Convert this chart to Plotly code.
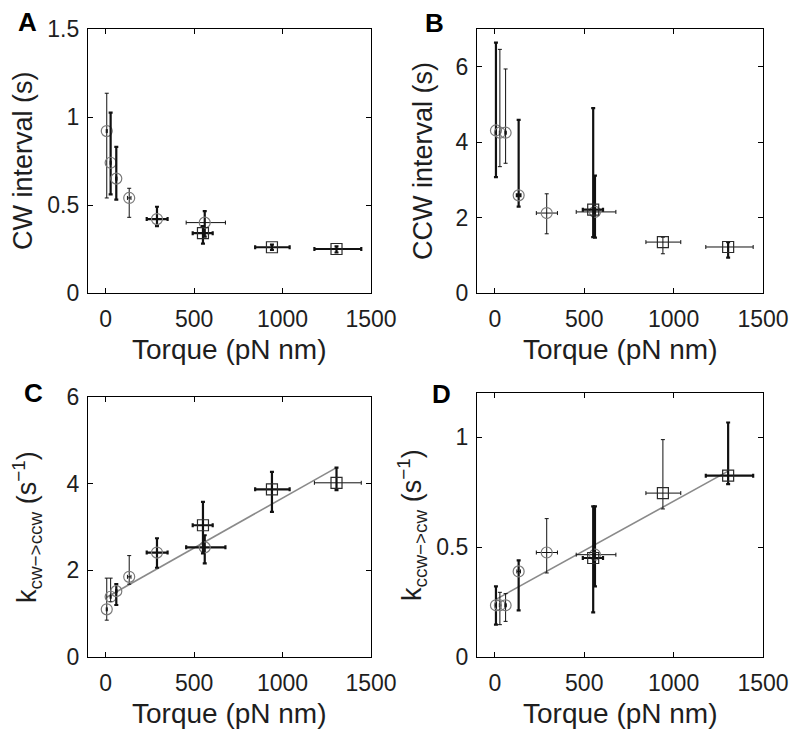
import plotly.graph_objects as go

# ---------------- data ----------------
# first six points: circles, last three: squares
BEAD_KIND = ["circle", "circle", "circle", "circle", "circle", "circle",
             "square", "square", "square"]
TORQUE = [6, 28, 60, 133, 290, 560, 550, 940, 1305]
TORQUE_ERR_LO = [3, 3, 4, 10, 58, 105, 58, 95, 125]
TORQUE_ERR_HI = [3, 3, 4, 10, 60, 117, 55, 100, 140]

CW_INTERVAL = [0.92, 0.74, 0.65, 0.54, 0.42, 0.40, 0.34, 0.26, 0.25]
CW_ERR_LO = [0.38, 0.18, 0.12, 0.11, 0.04, 0.08, 0.06, 0.015, 0.02]
CW_ERR_HI = [0.215, 0.285, 0.18, 0.055, 0.07, 0.065, 0.04, 0.015, 0.015]

CCW_INTERVAL = [4.31, 4.25, 4.25, 2.59, 2.12, 2.15, 2.21, 1.35, 1.22]
CCW_ERR_LO = [1.24, 0.90, 0.81, 0.30, 0.55, 0.68, 0.73, 0.31, 0.28]
CCW_ERR_HI = [2.33, 2.21, 1.69, 2.00, 0.51, 0.96, 2.69, 0.13, 0.13]

K_CW_CCW = [1.10, 1.39, 1.52, 1.85, 2.41, 2.53, 3.04, 3.87, 4.02]
K_CW_CCW_ERR_LO = [0.25, 0.11, 0.32, 0.17, 0.35, 0.37, 0.65, 0.52, 0.17]
K_CW_CCW_ERR_HI = [0.72, 0.43, 0.16, 0.49, 0.33, 0.28, 0.54, 0.40, 0.35]

K_CCW_CW = [0.235, 0.235, 0.235, 0.389, 0.475, 0.465, 0.45, 0.745, 0.824]
K_CCW_CW_ERR_LO = [0.088, 0.088, 0.073, 0.177, 0.093, 0.144, 0.247, 0.072, 0.038]
K_CCW_CW_ERR_HI = [0.086, 0.059, 0.053, 0.050, 0.154, 0.220, 0.235, 0.243, 0.242]

FIT_C_X = [6, 1305]
FIT_C_Y = [1.38, 4.37]
FIT_D_X = [6, 1305]
FIT_D_Y = [0.262, 0.845]

X_TICKS = [0, 500, 1000, 1500]
X_TITLE = "Torque (pN nm)"

# ---------------- styles (error-bar line widths per point) ----------------
W_THIN, W_THICK = 1.0, 2.2
YW_A = [W_THIN, W_THICK, W_THICK, W_THIN, W_THICK, W_THICK, W_THICK, W_THICK, W_THICK]
XW_A = [W_THIN, W_THIN, W_THIN, W_THIN, W_THICK, W_THIN, W_THICK, W_THICK, W_THICK]
YW_B = [W_THICK, W_THIN, W_THIN, W_THICK, W_THIN, W_THICK, W_THICK, W_THIN, W_THICK]
XW_B = [W_THIN, W_THIN, W_THIN, W_THICK, W_THIN, W_THIN, W_THICK, W_THIN, W_THIN]
YW_C = [W_THIN, W_THIN, W_THICK, W_THIN, W_THICK, W_THICK, W_THICK, W_THICK, W_THICK]
XW_C = [W_THIN, W_THIN, W_THIN, W_THIN, W_THICK, W_THICK, W_THICK, W_THICK, W_THIN]
YW_D = [W_THICK, W_THIN, W_THIN, W_THICK, W_THIN, W_THICK, W_THICK, W_THIN, W_THICK]
XW_D = [W_THIN, W_THIN, W_THIN, W_THIN, W_THIN, W_THIN, W_THICK, W_THIN, W_THICK]

W, H = 800, 741
OFF = 8  # the page body has an 8px default margin; positions below are window pixels
FONT = "Liberation Sans, Arial, sans-serif"
TXT = "#1e1e1e"


def fx(px):
    return (px - OFF) / W


def fy(py):
    return 1 - (py - OFF) / H


panels = [
    dict(ax="", y=CW_INTERVAL, lo=CW_ERR_LO, hi=CW_ERR_HI, yw=YW_A, xw=XW_A,
         yrange=[0, 1.5], yticks=[0, 0.5, 1, 1.5], yticktext=["0", "0.5", "1", "1.5"],
         px=(88, 371), py=(29, 293), fit=None, letter="A", letter_xy=(27, 22),
         ytitle="CW interval (s)", ytitle_x=23),
    dict(ax="2", y=CCW_INTERVAL, lo=CCW_ERR_LO, hi=CCW_ERR_HI, yw=YW_B, xw=XW_B,
         yrange=[0, 7], yticks=[0, 2, 4, 6], yticktext=["0", "2", "4", "6"],
         px=(477, 763), py=(29, 293), fit=None, letter="B", letter_xy=(435, 23),
         ytitle="CCW interval (s)", ytitle_x=423),
    dict(ax="3", y=K_CW_CCW, lo=K_CW_CCW_ERR_LO, hi=K_CW_CCW_ERR_HI, yw=YW_C, xw=XW_C,
         yrange=[0, 6], yticks=[0, 2, 4, 6], yticktext=["0", "2", "4", "6"],
         px=(88, 371), py=(397, 657), fit=(FIT_C_X, FIT_C_Y), letter="C", letter_xy=(33, 393),
         ytitle="k<sub>cw−>ccw</sub> (s<sup>−1</sup>)", ytitle_x=27),
    dict(ax="4", y=K_CCW_CW, lo=K_CCW_CW_ERR_LO, hi=K_CCW_CW_ERR_HI, yw=YW_D, xw=XW_D,
         yrange=[0, 1.2], yticks=[0, 0.5, 1], yticktext=["0", "0.5", "1"],
         px=(477, 763), py=(393, 657), fit=(FIT_D_X, FIT_D_Y), letter="D", letter_xy=(441, 394),
         ytitle="k<sub>ccw−>cw</sub> (s<sup>−1</sup>)", ytitle_x=412),
]

fig = go.Figure()
annotations = []
layout = {}

for p in panels:
    xa, ya = "x" + p["ax"], "y" + p["ax"]
    if p["fit"] is not None:
        fig.add_trace(go.Scatter(x=p["fit"][0], y=p["fit"][1], mode="lines",
                                 line=dict(color="#8a8a8a", width=1.6),
                                 xaxis=xa, yaxis=ya, showlegend=False, hoverinfo="skip"))
    for i in range(len(TORQUE)):
        is_circ = BEAD_KIND[i] == "circle"
        fig.add_trace(go.Scatter(
            x=[TORQUE[i]], y=[p["y"][i]], mode="markers",
            marker=dict(symbol="circle-open" if is_circ else "square-open",
                        size=11,
                        color="#7a7a7a" if is_circ else "#2a2a2a",
                        line=dict(width=1.2)),
            error_y=dict(type="data", symmetric=False, array=[p["hi"][i]],
                         arrayminus=[p["lo"][i]], color="#111111",
                         thickness=p["yw"][i], width=2),
            error_x=dict(type="data", symmetric=False, array=[TORQUE_ERR_HI[i]],
                         arrayminus=[TORQUE_ERR_LO[i]], color="#111111",
                         thickness=p["xw"][i], width=2),
            xaxis=xa, yaxis=ya, showlegend=False))

    x0, x1 = p["px"]
    y0, y1 = p["py"]
    axis_common = dict(showline=True, linecolor="black", linewidth=1.2, mirror="ticks",
                       ticks="inside", ticklen=5, tickcolor="black", tickwidth=1,
                       showgrid=False, zeroline=False, automargin=False,
                       tickfont=dict(family=FONT, size=23, color=TXT))
    layout["xaxis" + p["ax"]] = dict(axis_common, domain=[fx(x0), fx(x1)], range=[-100, 1500],
                                     tickvals=X_TICKS, anchor=ya, ticklabelstandoff=5)
    layout["yaxis" + p["ax"]] = dict(axis_common, domain=[fy(y1), fy(y0)],
                                     range=p["yrange"], tickvals=p["yticks"],
                                     ticktext=p["yticktext"], anchor=xa, ticklabelstandoff=3)
    # x title
    annotations.append(dict(text=X_TITLE, x=fx((x0 + x1) / 2), y=fy(y1 + 56),
                            xref="paper", yref="paper", xanchor="center", yanchor="middle",
                            showarrow=False, font=dict(family=FONT, size=28, color=TXT)))
    # y title
    annotations.append(dict(text=p["ytitle"], x=fx(p["ytitle_x"]), y=fy((y0 + y1) / 2),
                            xref="paper", yref="paper", xanchor="center", yanchor="middle",
                            textangle=-90, showarrow=False,
                            font=dict(family=FONT, size=27, color=TXT)))
    # panel letter
    lx, ly = p["letter_xy"]
    annotations.append(dict(text="<b>" + p["letter"] + "</b>", x=fx(lx), y=fy(ly),
                            xref="paper", yref="paper", xanchor="center", yanchor="middle",
                            showarrow=False, font=dict(family=FONT, size=26, color="black")))

fig.update_layout(width=W, height=H,
                  margin=dict(l=0, r=0, t=0, b=0, pad=0, autoexpand=False),
                  paper_bgcolor="white", plot_bgcolor="white",
                  annotations=annotations, **layout)

fig.write_html("out.html")
